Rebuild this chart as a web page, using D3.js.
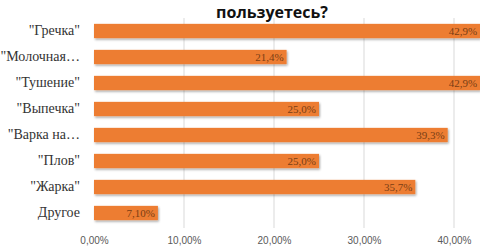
<!DOCTYPE html>
<html lang="ru">
<head>
<meta charset="UTF-8">
<title>пользуетесь?</title>
<script src="https://d3js.org/d3.v7.min.js"></script>
<style>
  body { margin: 0; background: #fff; }
  svg { display: block; }
</style>
</head>
<body>
<div id="chart"></div>
<script>
// данные
const categories = ["\"Гречка\"", "\"Молочная…", "\"Тушение\"", "\"Выпечка\"", "\"Варка на…", "\"Плов\"", "\"Жарка\"", "Другое"];
const values = [0.429, 0.214, 0.429, 0.25, 0.393, 0.25, 0.357, 0.071];
const valueLabels = ["42,9%", "21,4%", "42,9%", "25,0%", "39,3%", "25,0%", "35,7%", "7,10%"];
const ticks = [0, 0.1, 0.2, 0.3, 0.4];

const width = 480, height = 250;
const svg = d3.select("#chart").append("svg")
  .attr("width", width).attr("height", height);

const defs = svg.append("defs");
const f = defs.append("filter").attr("id", "sh")
  .attr("x", "-5%").attr("y", "-30%").attr("width", "110%").attr("height", "180%");
f.append("feDropShadow").attr("dx", 1).attr("dy", 1.5)
  .attr("stdDeviation", 1).attr("flood-color", "#000").attr("flood-opacity", 0.35);

const x = d3.scaleLinear().domain([0, 0.4]).range([94, 454]);
const y = d3.scaleBand().domain(categories).range([18, 226])
  .paddingInner(0.45).paddingOuter(0.225);

// сетка
svg.append("g").selectAll("line")
  .data(ticks.slice(1))
  .join("line")
  .attr("x1", d => x(d)).attr("x2", d => x(d))
  .attr("y1", 18).attr("y2", 228)
  .attr("stroke", "#d9d9d9").attr("stroke-width", 1);

// заголовок
svg.append("text")
  .attr("x", 272).attr("y", 17.5)
  .attr("text-anchor", "middle")
  .attr("font-family", "'Open Sans', sans-serif")
  .attr("font-weight", "bold")
  .attr("font-size", 16)
  .attr("fill", "#111")
  .text("пользуетесь?");

// ось X
const xAxis = d3.axisBottom(x).tickValues(ticks)
  .tickFormat(d => d3.format(".2f")(d * 100).replace(".", ",") + "%")
  .tickSize(0).tickPadding(0);
const gx = svg.append("g").attr("transform", "translate(0,237)").call(xAxis);
gx.select(".domain").remove();
gx.selectAll("text")
  .attr("font-family", "'Liberation Sans', sans-serif")
  .attr("font-size", 10)
  .attr("fill", "#595959");

// ось Y
const yAxis = d3.axisLeft(y).tickSize(0).tickPadding(14);
const gy = svg.append("g").attr("transform", "translate(94,0)").call(yAxis);
gy.select(".domain").remove();
gy.selectAll("text")
  .attr("font-family", "'Liberation Serif', serif")
  .attr("font-size", 14)
  .attr("fill", "#333");

// столбцы
svg.append("g").selectAll("rect")
  .data(values)
  .join("rect")
  .attr("x", x(0))
  .attr("y", (d, i) => y(categories[i]))
  .attr("width", d => x(d) - x(0))
  .attr("height", y.bandwidth())
  .attr("fill", "#ED7D31")
  .attr("filter", "url(#sh)");

// подписи значений
svg.append("g").selectAll("text")
  .data(values)
  .join("text")
  .attr("x", d => x(d) - 3)
  .attr("y", (d, i) => y(categories[i]) + y.bandwidth() / 2)
  .attr("dy", "0.35em")
  .attr("text-anchor", "end")
  .attr("font-family", "'Liberation Serif', serif")
  .attr("font-size", 11)
  .attr("fill", "#7a3e14")
  .text((d, i) => valueLabels[i]);
</script>
</body>
</html>
